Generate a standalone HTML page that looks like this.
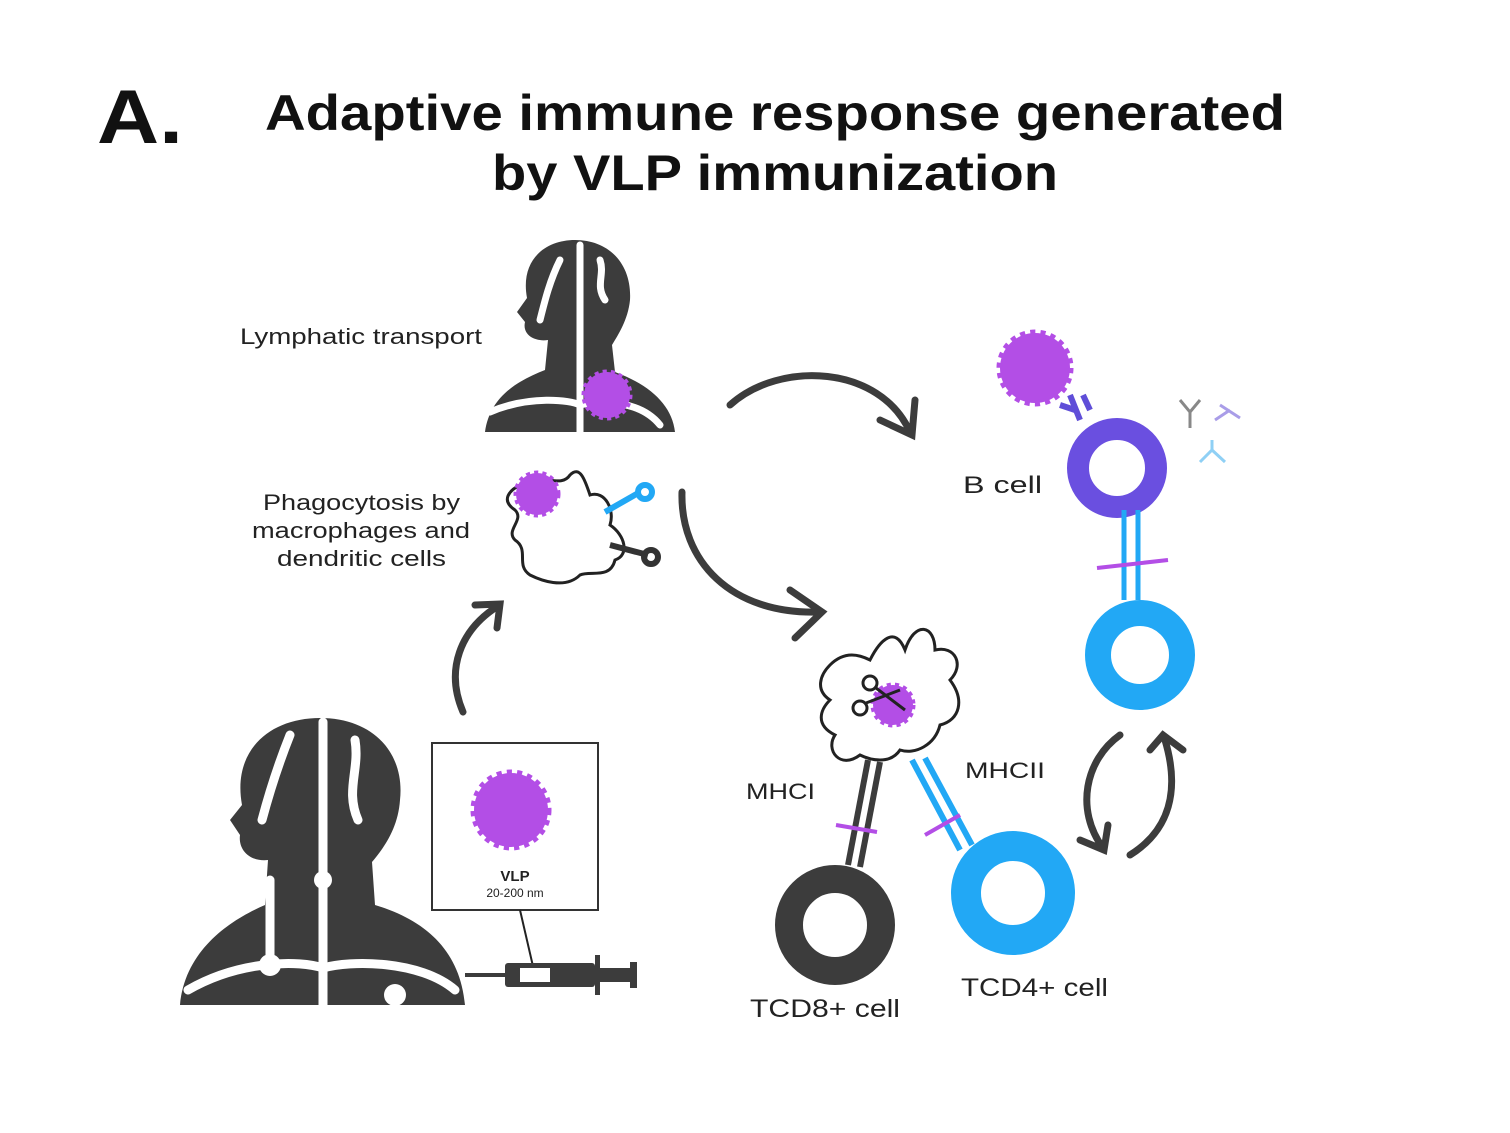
<!DOCTYPE html>
<html><head><meta charset="utf-8"><style>
html,body{margin:0;padding:0;background:#fff}
svg{display:block}
text{font-family:"Liberation Sans",sans-serif}
</style></head><body>
<svg width="1510" height="1133" viewBox="0 0 1510 1133" xmlns="http://www.w3.org/2000/svg">
<rect width="1510" height="1133" fill="#fff"/>
<text x="97" y="143" font-size="76" font-weight="bold" fill="#111" textLength="86" lengthAdjust="spacingAndGlyphs">A.</text>
<text x="265" y="130" font-size="50" font-weight="bold" fill="#111" textLength="1020" lengthAdjust="spacingAndGlyphs">Adaptive immune response generated</text>
<text x="492" y="190" font-size="50" font-weight="bold" fill="#111" textLength="566" lengthAdjust="spacingAndGlyphs">by VLP immunization</text>

<!-- top head -->
<g fill="#3c3c3c">
<path d="M485,432 C490,395 520,380 545,370 L548,340 C535,342 522,335 525,322 L517,312 L527,298 C520,260 545,240 575,240 C610,240 632,265 630,300 C628,320 618,335 612,345 L615,372 C650,385 672,405 675,432 Z"/>
</g>
<g stroke="#fff" stroke-width="7" fill="none" stroke-linecap="round">
<path d="M580,245 L580,432"/>
<path d="M560,260 C550,280 545,300 540,320"/>
<path d="M600,260 C605,275 595,285 605,300"/>
<path d="M490,412 C530,395 570,400 580,405 C600,400 640,400 660,425"/>
</g>
<circle cx="607" cy="395" r="23" fill="#b34ee6" stroke="#b34ee6" stroke-width="5" stroke-dasharray="4 4"/>
<text x="240" y="344" font-size="22" fill="#222" textLength="242" lengthAdjust="spacingAndGlyphs">Lymphatic transport</text>

<text x="263" y="510" font-size="22" fill="#222" textLength="197" lengthAdjust="spacingAndGlyphs">Phagocytosis by</text>
<text x="252" y="538" font-size="22" fill="#222" textLength="218" lengthAdjust="spacingAndGlyphs">macrophages and</text>
<text x="277" y="566" font-size="22" fill="#222" textLength="169" lengthAdjust="spacingAndGlyphs">dendritic cells</text>

<!-- macrophage -->
<path d="M520,485 C540,470 560,490 570,475 C580,465 585,480 590,495 C605,490 615,510 610,525 C625,535 630,555 615,560 C610,580 590,570 580,575 C565,590 540,580 530,575 C515,565 530,550 515,540 C505,530 525,520 515,510 C500,500 510,490 520,485 Z" fill="none" stroke="#222" stroke-width="3"/>
<circle cx="537" cy="494" r="21" fill="#b34ee6" stroke="#b34ee6" stroke-width="5" stroke-dasharray="4 4"/>
<g stroke="#22a8f5" stroke-width="6" fill="none"><path d="M605,512 L640,492"/><circle cx="645" cy="492" r="7"/></g>
<g stroke="#333" stroke-width="6" fill="none"><path d="M610,545 L648,555"/><circle cx="651" cy="557" r="7"/></g>

<!-- arrows -->
<g stroke="#3c3c3c" stroke-width="7" fill="none" stroke-linecap="round">
<path d="M730,405 C780,360 880,365 910,432"/>
<path d="M880,420 L912,435 L915,400"/>
<path d="M682,492 C680,560 730,615 820,612"/>
<path d="M790,590 L822,612 L795,638"/>
<path d="M463,712 C445,670 460,630 498,606"/>
<path d="M475,605 L500,604 L497,628"/>
<path d="M1103,848 C1075,810 1085,760 1120,735"/>
<path d="M1080,840 L1104,850 L1108,825"/>
<path d="M1130,855 C1170,830 1180,790 1165,740"/>
<path d="M1150,750 L1163,735 L1183,750"/>
</g>

<!-- bottom head -->
<path d="M180,1005 C185,950 230,920 265,905 L268,860 C250,862 238,850 240,835 L230,820 L242,805 C232,750 270,718 320,718 C375,718 405,755 400,800 C398,830 382,850 372,862 L375,905 C425,920 460,950 465,1005 Z" fill="#3c3c3c"/>
<g stroke="#fff" stroke-width="9" fill="none" stroke-linecap="round">
<path d="M323,722 L323,1005"/>
<path d="M290,735 C280,760 270,790 262,820"/>
<path d="M355,740 C360,770 345,790 358,820"/>
<path d="M188,990 C240,960 300,960 323,968 C350,960 420,960 455,990"/>
<path d="M270,880 L270,960"/>
</g>
<g fill="#fff"><circle cx="270" cy="965" r="11"/><circle cx="395" cy="995" r="11"/><circle cx="323" cy="880" r="9"/></g>

<rect x="432" y="743" width="166" height="167" fill="#fff" stroke="#333" stroke-width="2"/>
<circle cx="511" cy="810" r="37" fill="#b34ee6" stroke="#b34ee6" stroke-width="7" stroke-dasharray="5 5"/>
<text x="515" y="881" font-size="15" font-weight="bold" text-anchor="middle" fill="#222">VLP</text>
<text x="515" y="897" font-size="12" text-anchor="middle" fill="#222">20-200 nm</text>
<line x1="520" y1="910" x2="535" y2="975" stroke="#222" stroke-width="2"/>
<!-- syringe -->
<g fill="#3c3c3c"><rect x="465" y="973" width="40" height="4"/><rect x="505" y="963" width="90" height="24" rx="3"/><rect x="595" y="955" width="5" height="40"/><rect x="600" y="968" width="30" height="14"/><rect x="630" y="962" width="7" height="26"/></g>
<rect x="520" y="968" width="30" height="14" fill="#fff"/>

<!-- B cell -->
<circle cx="1035" cy="368" r="35" fill="#b34ee6" stroke="#b34ee6" stroke-width="7" stroke-dasharray="5 5"/>
<g stroke="#5f4ed8" stroke-width="6" fill="none"><path d="M1070,395 L1080,420"/><path d="M1060,405 L1075,410"/><path d="M1083,395 L1090,410"/></g>
<circle cx="1117" cy="468" r="39" fill="none" stroke="#6a4fe0" stroke-width="22"/>
<g stroke="#22a8f5" stroke-width="5"><line x1="1124" y1="510" x2="1124" y2="600"/><line x1="1138" y1="510" x2="1138" y2="600"/></g>
<line x1="1097" y1="568" x2="1168" y2="560" stroke="#b34ee6" stroke-width="4"/>
<circle cx="1140" cy="655" r="42" fill="none" stroke="#22a8f5" stroke-width="26"/>
<text x="963" y="493" font-size="24" fill="#222" textLength="79" lengthAdjust="spacingAndGlyphs">B cell</text>
<g stroke-width="3" fill="none"><path d="M1190,428 L1190,412 L1180,400 M1190,412 L1200,400" stroke="#888"/><path d="M1215,420 L1230,410 M1220,405 L1240,418" stroke="#a99de8"/><path d="M1200,462 L1212,450 L1225,462 M1212,450 L1212,440" stroke="#8fd0f5"/></g>
<text x="965" y="778" font-size="22" fill="#222" textLength="80" lengthAdjust="spacingAndGlyphs">MHCII</text>
<text x="746" y="799" font-size="22" fill="#222" textLength="69" lengthAdjust="spacingAndGlyphs">MHCI</text>

<!-- dendritic cell -->
<path d="M830,665 C845,650 860,655 870,660 C880,640 895,625 905,650 C915,620 935,625 935,650 C955,645 965,665 950,680 C965,700 960,720 940,725 C935,745 915,755 900,750 C890,765 870,760 860,755 C840,770 825,750 835,735 C815,725 820,710 830,700 C815,690 820,675 830,665 Z" fill="none" stroke="#222" stroke-width="3"/>
<circle cx="893" cy="705" r="20" fill="#b34ee6" stroke="#b34ee6" stroke-width="5" stroke-dasharray="4 4"/>
<g stroke="#222" stroke-width="3" fill="none"><circle cx="870" cy="683" r="7"/><circle cx="860" cy="708" r="7"/><path d="M876,688 L905,710 M866,703 L900,690"/></g>
<g stroke="#3c3c3c" stroke-width="6"><line x1="868" y1="760" x2="848" y2="865"/><line x1="880" y1="762" x2="860" y2="867"/></g>
<line x1="836" y1="825" x2="877" y2="832" stroke="#b34ee6" stroke-width="4"/>
<g stroke="#22a8f5" stroke-width="6"><line x1="912" y1="760" x2="960" y2="850"/><line x1="925" y1="758" x2="972" y2="845"/></g>
<line x1="925" y1="835" x2="960" y2="815" stroke="#b34ee6" stroke-width="4"/>
<circle cx="835" cy="925" r="46" fill="none" stroke="#3c3c3c" stroke-width="28"/>
<circle cx="1013" cy="893" r="47" fill="none" stroke="#22a8f5" stroke-width="30"/>
<text x="750" y="1017" font-size="25" fill="#222" textLength="150" lengthAdjust="spacingAndGlyphs">TCD8+ cell</text>
<text x="961" y="996" font-size="25" fill="#222" textLength="147" lengthAdjust="spacingAndGlyphs">TCD4+ cell</text>
</svg>
</body></html>
